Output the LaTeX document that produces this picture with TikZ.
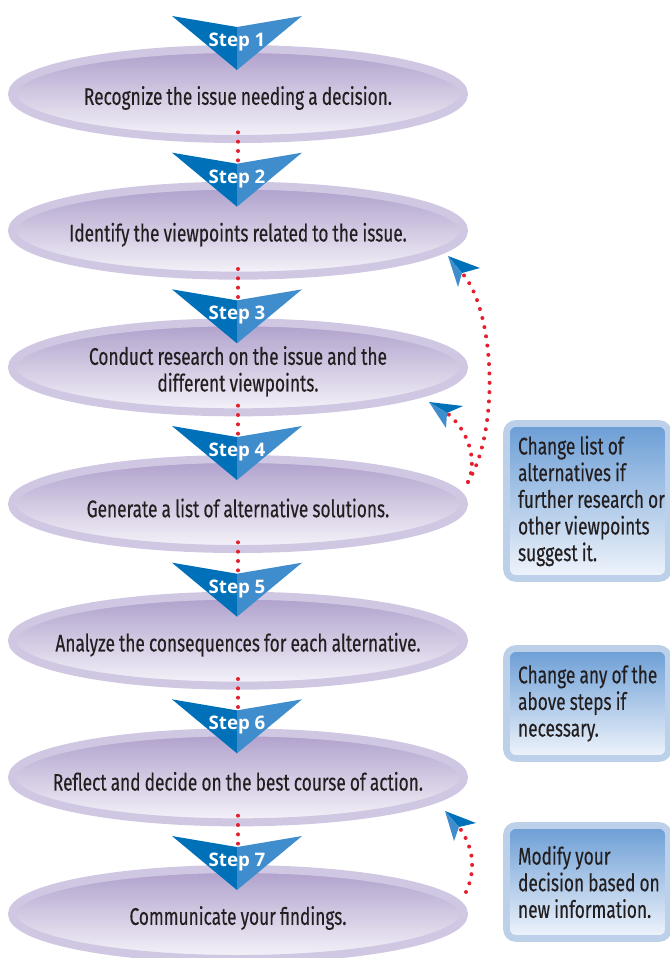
\documentclass[tikz,border=0pt]{standalone}
\usepackage{fontspec}
\setmainfont{Fira Sans}[FakeStretch=0.72, WordSpace=0.9, FakeBold=0.3]
\newfontfamily\stepfont{Open Sans}
\usetikzlibrary{shapes.geometric}

\definecolor{ovalring}{HTML}{D0C7E3}
\definecolor{ovaltop}{HTML}{AE9FCB}
\definecolor{ovalbottom}{HTML}{F6F4FA}
\definecolor{tridark}{HTML}{0070B9}
\definecolor{trilight}{HTML}{3F8DCC}
\definecolor{boxring}{HTML}{BCD0EA}
\definecolor{boxtop}{HTML}{6A9DD5}
\definecolor{boxbottom}{HTML}{F1F5FC}
\definecolor{dotred}{HTML}{E5202E}
\definecolor{ink}{HTML}{231F20}

\tikzset{
	stepoval/.style={ellipse, minimum width=339pt, minimum height=67.5pt, inner sep=0pt,
		draw=ovalring, line width=6pt, top color=ovaltop, bottom color=ovalbottom},
	steptext/.style={align=center, text=ink, inner sep=0pt, font=\fontsize{18}{20}\selectfont},
	notebox/.style={rectangle, rounded corners=7pt, minimum width=121.5pt, inner sep=0pt,
		draw=boxring, line width=5pt, top color=boxtop, bottom color=boxbottom},
	notetext/.style={anchor=west, align=left, text=ink, inner sep=0pt, font=\fontsize{18}{20}\selectfont},
	steplabel/.style={text=white, inner sep=0pt, font=\stepfont\bfseries\fontsize{14}{14}\selectfont},
	reddots/.style={dotred, line width=3pt, line cap=round, dash pattern=on 0pt off 7pt},
}

\begin{document}
\begin{tikzpicture}[x=0.75pt, y=-0.75pt]

	\useasboundingbox (0,0) rectangle (669,958);

	% the seven steps
	\foreach \i/\txt in {
			1/{Recognize the issue needing a decision.},
			2/{Identify the viewpoints related to the issue.},
			3/{Conduct research on the issue and the\\different viewpoints.},
			4/{Generate a list of alternative solutions.},
			5/{Analyze the consequences for each alternative.},
			6/{Reflect and decide on the best course of action.},
			7/{Communicate your findings.}}
	{
		\pgfmathsetmacro\cy{94+136.67*(\i-1)}
		\node [stepoval] (s\i) at (238,\cy) {};
		\node [steptext] (x\i) at (238,\cy+4) {\txt};
	}

	% dotted links between the steps
	\foreach \i/\j in {1/2,2/3,3/4,4/5,5/6,6/7}
		\draw [reddots] ([yshift=8pt]s\i.south) -- ([yshift=16pt]s\j.north);

	% step triangles
	\foreach \i in {1,...,7}
	{
		\pgfmathsetmacro\cy{94+136.67*(\i-1)}
		\fill [tridark] (172,\cy-78) -- (237,\cy-67) -- (237,\cy-24) -- cycle;
		\fill [trilight] (237,\cy-67) -- (302,\cy-78) -- (237,\cy-24) -- cycle;
		\node [steplabel] (t\i) at (237,\cy-52) {Step \i};
	}

	% notes
	\node [notebox, minimum height=116.25pt] (n1) at (587.5,501) {};
	\node [notetext] at ([xshift=11pt]n1.west)
		{Change list of\\alternatives if\\further research or\\other viewpoints\\suggest it.};
	\node [notebox, minimum height=82.5pt] (n2) at (587.5,703.5) {};
	\node [notetext] at ([xshift=11pt]n2.west)
		{Change any of the\\above steps if\\necessary.};
	\node [notebox, minimum height=84.75pt] (n3) at (587.5,882) {};
	\node [notetext] at ([xshift=11pt]n3.west)
		{Modify your\\decision based on\\new information.};

	% curved arrows back up
	\coordinate (a1) at (468,482);
	\coordinate (a3) at (466,892);
	\coordinate (h1) at (462,273);
	\coordinate (h2) at (447,413);
	\coordinate (h3) at (459,827);

	\draw [reddots] (a1) .. controls (500,430) and (495,310) .. (h1);
	\draw [reddots] (a1) .. controls (478,460) and (468,430) .. (h2);
	\draw [reddots] (a3) .. controls (476,870) and (474,848) .. (h3);

	\foreach \tx/\ty/\rx/\ry/\nx/\ny/\bx/\by in {
			448/256/480/268/462/273/458/287,
			429/402/463/406/447/413/446/428,
			445/811/476/823/459/827/454/841}
	{
		\fill [tridark] (\tx,\ty) -- (\rx,\ry) -- (\nx,\ny) -- cycle;
		\fill [trilight] (\tx,\ty) -- (\nx,\ny) -- (\bx,\by) -- cycle;
	}

\end{tikzpicture}
\end{document}
